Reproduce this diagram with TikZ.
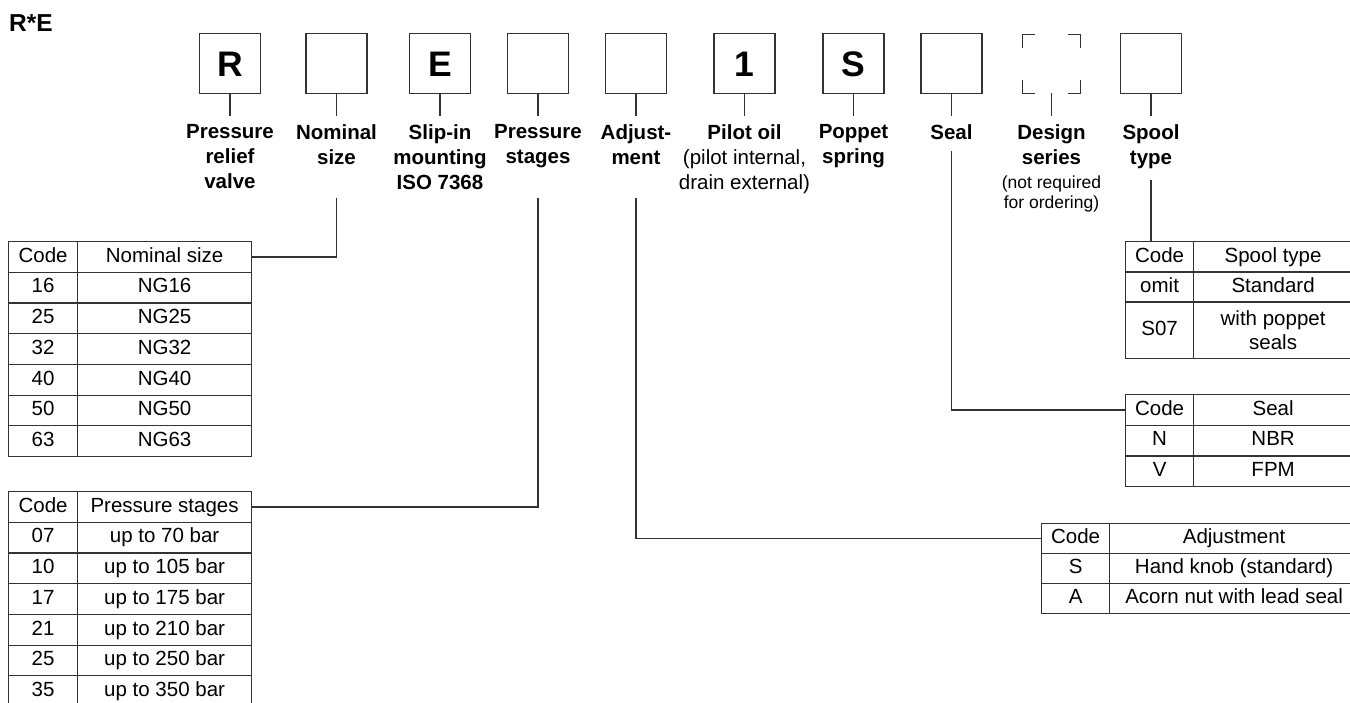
\documentclass[tikz,border=0pt]{standalone}
\usepackage{fontspec}
\setmainfont{Liberation Sans}
\definecolor{lc}{HTML}{333333}
\tikzset{
  ln/.style={draw=lc, line width=1.3pt},
  codebox/.style={draw=lc, line width=1.4pt, minimum width=61pt, minimum height=60pt, inner sep=0pt,
    text height=25.5pt, text depth=0pt, font=\fontsize{35.5}{36}\selectfont\bfseries},
  lab/.style={anchor=north, inner sep=0pt, align=center, font=\fontsize{20.5}{25}\selectfont\bfseries},
  labr/.style={anchor=north, inner sep=0pt, align=center, font=\fontsize{20.5}{25}\selectfont},
  note/.style={anchor=north, inner sep=0pt, align=center, font=\fontsize{17.5}{20.5}\selectfont},
  cell/.style={draw=lc, line width=1.2pt, anchor=north west, inner sep=0pt, minimum height=30.7pt,
    text height=14.6pt, text depth=4pt, font=\fontsize{20.5}{24}\selectfont},
  cellml/.style={draw=lc, line width=1.2pt, anchor=north west, inner sep=0pt, align=center,
    font=\fontsize{20.5}{24.5}\selectfont},
}
\begin{document}
\begin{tikzpicture}[x=1pt,y=-1pt]
\clip (0,0) rectangle (1350,702);
\fill[white] (0,0) rectangle (1350,702);

% title
\node[anchor=base west, inner sep=0pt, font=\fontsize{24.5}{25}\selectfont\bfseries] (title) at (9,31) {R*E};

% code boxes
\node[codebox] (b1) at (230,63.5) {R};
\node[codebox] (b2) at (336.5,63.5) {};
\node[codebox] (b3) at (440,63.5) {E};
\node[codebox] (b4) at (538,63.5) {};
\node[codebox] (b5) at (636,63.5) {};
\node[codebox] (b6) at (744.5,63.5) {1};
\node[codebox] (b7) at (853.5,63.5) {S};
\node[codebox] (b8) at (951.5,63.5) {};
\node[inner sep=0pt, minimum width=57pt, minimum height=58pt] (b9) at (1051.5,64) {};
\node[codebox] (b10) at (1151,63.5) {};
% dashed (optional) box drawn as four corners
\draw[ln] ([yshift=-13pt]b9.north west) -- (b9.north west) -- ([xshift=12pt]b9.north west);
\draw[ln] ([yshift=-13pt]b9.north east) -- (b9.north east) -- ([xshift=-12pt]b9.north east);
\draw[ln] ([yshift=13pt]b9.south west) -- (b9.south west) -- ([xshift=12pt]b9.south west);
\draw[ln] ([yshift=13pt]b9.south east) -- (b9.south east) -- ([xshift=-12pt]b9.south east);

% labels
\node[lab] (l1) at (230,124.5) {Pressure\\relief\\valve};
\node[lab] (l2) at (336.5,124.5) {Nominal\\size};
\node[lab] (l3) at (440,124.5) {Slip-in\\mounting\\ISO 7368};
\node[lab] (l4) at (538,124.5) {Pressure\\stages};
\node[lab] (l5) at (636,124.5) {Adjust-\\ment};
\node[labr] (l6) at (744.5,124.5) {\textbf{Pilot oil}\\(pilot internal,\\drain external)};
\node[lab] (l7) at (853.5,124.5) {Poppet\\spring};
\node[lab] (l8) at (951.5,124.5) {Seal};
\node[lab] (l9) at (1051.5,124.5) {Design\\series};
\node[note] (l9n) at (1051.5,175.5) {(not required\\for ordering)};
\node[lab] (l10) at (1151,124.5) {Spool\\type};

% stubs between boxes and labels
\foreach \k in {1,...,10} {
  \draw[ln, shorten >=8.5pt] (b\k.south) -- (b\k.south |- l\k.north);
}

% free ends of the connectors below the labels
\coordinate (c2) at (336.5,198);
\coordinate (c4) at (538,198);
\coordinate (c5) at (636,198);
\coordinate (c8) at (951.5,151);
\coordinate (c10) at (1151,180);

% Nominal size table
\foreach [count=\i from 0] \c/\v in {Code/Nominal size,16/NG16,25/NG25,32/NG32,40/NG40,50/NG50,63/NG63} {
  \node[cell, minimum width=69pt] (ns-c\i) at (8,{241+\i*30.7}) {\c};
  \node[cell, minimum width=174pt] (ns-v\i) at (77,{241+\i*30.7}) {\v};
}

% Pressure stages table
\foreach [count=\i from 0] \c/\v in {Code/Pressure stages,07/up to 70 bar,10/up to 105 bar,17/up to 175 bar,21/up to 210 bar,25/up to 250 bar,35/up to 350 bar} {
  \node[cell, minimum width=69pt] (ps-c\i) at (8,{491+\i*30.7}) {\c};
  \node[cell, minimum width=174pt] (ps-v\i) at (77,{491+\i*30.7}) {\v};
}

% Spool type table
\node[cell, minimum width=68pt] (sp-c0) at (1125,241) {Code};
\node[cell, minimum width=159pt] (sp-v0) at (1193,241) {Spool type};
\node[cell, minimum width=68pt] (sp-c1) at (1125,271.3) {omit};
\node[cell, minimum width=159pt] (sp-v1) at (1193,271.3) {Standard};
\node[cell, minimum width=68pt, minimum height=56.5pt] (sp-c2) at (1125,301.3) {S07};
\node[cellml, minimum width=159pt, minimum height=56.5pt] (sp-v2) at (1193,301.3) {with poppet\\seals};

% Seal table
\foreach [count=\i from 0] \c/\v in {Code/Seal,N/NBR,V/FPM} {
  \node[cell, minimum width=68pt] (se-c\i) at (1125,{394+\i*30.7}) {\c};
  \node[cell, minimum width=159pt] (se-v\i) at (1193,{394+\i*30.7}) {\v};
}

% Adjustment table
\foreach [count=\i from 0] \c/\v in {Code/Adjustment,S/Hand knob (standard),A/Acorn nut with lead seal} {
  \node[cell, minimum width=68pt, minimum height=30pt] (ad-c\i) at (1041,{523+\i*30}) {\c};
  \node[cell, minimum width=249pt, minimum height=30pt] (ad-v\i) at (1109,{523+\i*30}) {\v};
}

% connectors
\draw[ln] (c2) |- (ns-v0.east);
\draw[ln] (c4) |- (ps-v0.east);
\draw[ln] (c5) |- (ad-c0.west);
\draw[ln] (c8) |- (se-c0.west);
\draw[ln] (c10) -- (c10 |- sp-c0.north);
\end{tikzpicture}
\end{document}
